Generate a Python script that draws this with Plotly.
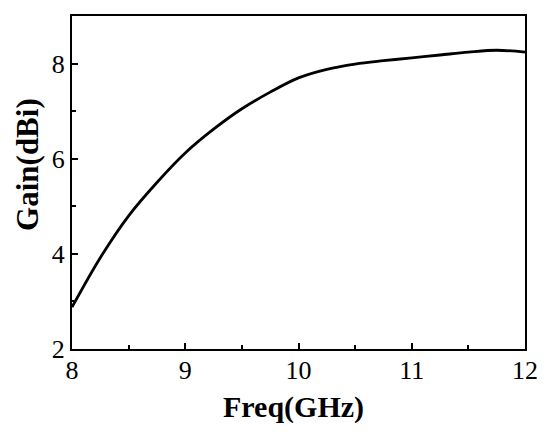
import plotly.graph_objects as go

# Gain vs frequency
freq = [8.0, 8.25, 8.5, 8.75, 9.0, 9.25, 9.5, 9.75, 10.0, 10.25, 10.5,
        10.75, 11.0, 11.25, 11.5, 11.75, 12.0]
gain = [2.88, 3.92, 4.8, 5.5, 6.12, 6.62, 7.05, 7.4, 7.7, 7.88, 7.99,
        8.06, 8.12, 8.18, 8.24, 8.28, 8.24]

x_ticks = [8, 9, 10, 11, 12]
y_ticks = [2, 4, 6, 8]

FONT = "Liberation Serif, Times New Roman, serif"

fig = go.Figure()
fig.add_trace(go.Scatter(
    x=freq, y=gain,
    mode="lines",
    line=dict(color="black", width=2.8, shape="spline", smoothing=1),
    showlegend=False,
))

axis_common = dict(
    showline=True, linecolor="black", linewidth=2, mirror=True,
    ticks="inside", ticklen=6, tickwidth=1.5, tickcolor="black",
    showgrid=False, zeroline=False, layer="above traces",
    tickfont=dict(family=FONT, size=26, color="black"),
)

fig.update_xaxes(
    range=[8, 12], tickvals=x_ticks, ticklabelstandoff=-3,
    minor=dict(ticks="inside", ticklen=4, tickwidth=1.5, tickcolor="black", dtick=0.5),
    **axis_common,
)
fig.update_yaxes(
    range=[2, 9], tickvals=y_ticks,
    minor=dict(ticks="inside", ticklen=4, tickwidth=1.5, tickcolor="black", dtick=1),
    **axis_common,
)

# axis titles as annotations, placed where the reference has them
fig.add_annotation(
    text="<b>Freq(GHz)</b>", xref="paper", yref="paper", x=0.49, y=-0.174,
    xanchor="center", yanchor="middle", showarrow=False,
    font=dict(family=FONT, size=30, color="black"),
)
fig.add_annotation(
    text="<b>Gain(dBi)</b>", xref="paper", yref="paper", x=-0.097, y=0.553,
    xanchor="center", yanchor="middle", showarrow=False, textangle=-90,
    font=dict(family=FONT, size=31, color="black"),
)

fig.update_layout(
    width=550, height=436,
    margin=dict(l=72, r=25, t=16, b=87),
    plot_bgcolor="white", paper_bgcolor="white",
)

# drop the default body margin so the figure sits at the window's corner
fig.write_html("out.html", config={"displayModeBar": False},
               post_script="document.body.style.margin='0';")
